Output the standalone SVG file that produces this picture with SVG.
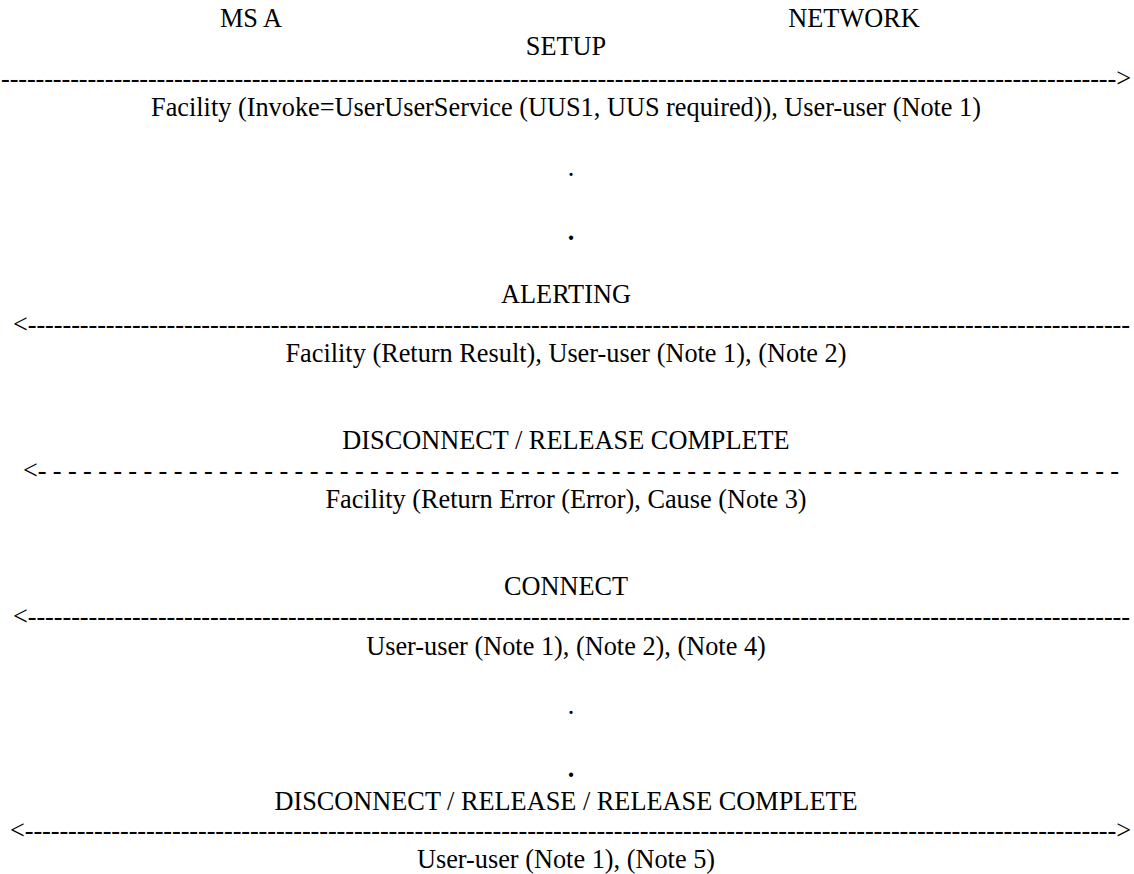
<svg xmlns="http://www.w3.org/2000/svg" width="1134" height="874" viewBox="0 0 1134 874">
<style>
text{font-family:"Liberation Serif","Times New Roman",serif;font-size:26.3px;fill:#000}
.c{text-anchor:middle}
.ln{white-space:pre}
.bd{font-weight:bold}
</style>
<rect width="1134" height="874" fill="#fff"/>
<g id="ms-a"><text class="c" x="251" y="27">MS A</text></g>
<g id="network"><text class="c" x="854" y="27">NETWORK</text></g>
<g id="connectors">
<text class="ln" x="1" y="87" textLength="1130" lengthAdjust="spacing">---------------------------------------------------------------------------------------------------------------------------------&gt;</text>
<text class="ln" x="13" y="333" textLength="1117" lengthAdjust="spacing">&lt;-------------------------------------------------------------------------------------------------------------------------------</text>
<text class="ln" x="23" y="479" textLength="1096" lengthAdjust="spacing" xml:space="preserve">&lt;- - - - - - - - - - - - - - - - - - - - - - - - - - - - - - - - - - - - - - - - - - - - - - - - - - - - - - - - - - - - - - - - - - - - - - - -</text>
<text class="ln" x="13" y="625" textLength="1117" lengthAdjust="spacing">&lt;-------------------------------------------------------------------------------------------------------------------------------</text>
<text class="ln" x="10" y="839" textLength="1121" lengthAdjust="spacing">&lt;------------------------------------------------------------------------------------------------------------------------------&gt;</text>
</g>
<g id="labels">
<text class="c" x="566" y="55">SETUP</text>
<text class="c" x="566" y="116">Facility (Invoke=UserUserService (UUS1, UUS required)), User-user (Note 1)</text>
<text class="c" x="571" y="176">.</text>
<text class="c bd" x="571" y="240">.</text>
<text class="c" x="566" y="303">ALERTING</text>
<text class="c" x="566" y="362">Facility (Return Result), User-user (Note 1), (Note 2)</text>
<text class="c" x="566" y="449">DISCONNECT / RELEASE COMPLETE</text>
<text class="c" x="566" y="508">Facility (Return Error (Error), Cause (Note 3)</text>
<text class="c" x="566" y="595">CONNECT</text>
<text class="c" x="566" y="655">User-user (Note 1), (Note 2), (Note 4)</text>
<text class="c" x="571" y="714">.</text>
<text class="c bd" x="571" y="777">.</text>
<text class="c" x="566" y="810">DISCONNECT / RELEASE / RELEASE COMPLETE</text>
<text class="c" x="566" y="868">User-user (Note 1), (Note 5)</text>
</g>
</svg>
